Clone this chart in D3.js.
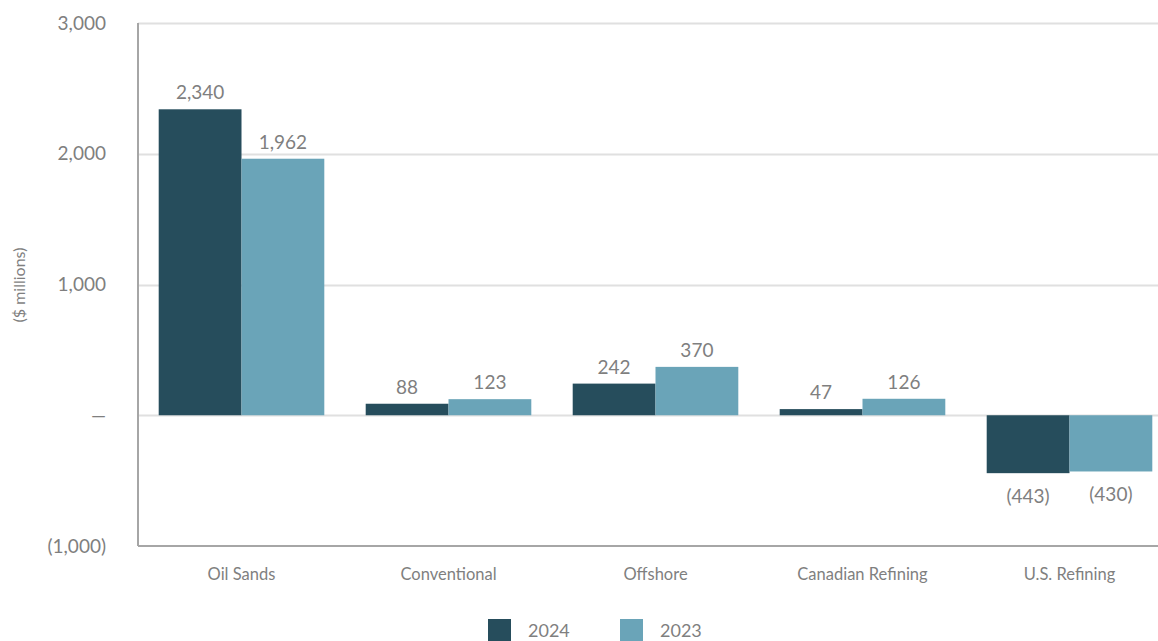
<!DOCTYPE html>
<html>
<head>
<meta charset="utf-8">
<script src="https://cdn.jsdelivr.net/npm/d3@7"></script>
<style>
  body { margin: 0; background: #fff; }
  text { font-family: Lato, "Open Sans", sans-serif; fill: #7f7f7f; }
</style>
</head>
<body>
<svg id="chart" width="1158" height="641"></svg>
<script>
const categories = ["Oil Sands", "Conventional", "Offshore", "Canadian Refining", "U.S. Refining"];
const seriesNames = ["2024", "2023"];
const values2024 = [2340, 88, 242, 47, -443];
const values2023 = [1962, 123, 370, 126, -430];
const yTicks = [-1000, 0, 1000, 2000, 3000];

const colours = { "2024": "#264d5c", "2023": "#6aa4b8" };

const svg = d3.select("#chart");
const xRange = [138, 1173];

const data = categories.map((c, i) => ({
  cat: c,
  vals: [
    { key: "2024", v: values2024[i] },
    { key: "2023", v: values2023[i] }
  ]
}));

const x0 = d3.scaleBand().domain(categories).range(xRange).paddingInner(0.2).paddingOuter(0.1);
const x1 = d3.scaleBand().domain(seriesNames).range([0, x0.bandwidth()]);
const y = d3.scaleLinear().domain([-1000, 3000]).range([546, 23]);

const fmt = (v) => v < 0 ? "(" + d3.format(",")(-v) + ")" : d3.format(",")(v);
const tickFmt = (v) => v === 0 ? "\u2014" : fmt(v);

// gridlines
svg.append("g")
  .selectAll("line")
  .data(yTicks.filter((d) => d > -1000))
  .enter()
  .append("line")
  .attr("x1", xRange[0])
  .attr("x2", 1158)
  .attr("y1", (d) => Math.round(y(d)) + 0.5)
  .attr("y2", (d) => Math.round(y(d)) + 0.5)
  .attr("stroke", "#e0e0e0")
  .attr("stroke-width", 2);

// y axis
const yAxis = d3.axisLeft(y).tickValues(yTicks).tickFormat(tickFmt).tickSize(0).tickPadding(32);
const yAxisG = svg.append("g").attr("transform", `translate(${xRange[0]},0)`).call(yAxis);
yAxisG.select(".domain").remove();
yAxisG.selectAll("text").style("font-size", "19px").attr("fill", "#7f7f7f");

// bars
const groups = svg.append("g")
  .selectAll("g")
  .data(data)
  .enter()
  .append("g")
  .attr("transform", (d) => `translate(${x0(d.cat)},0)`);

groups.selectAll("rect")
  .data((d) => d.vals)
  .enter()
  .append("rect")
  .attr("x", (d) => x1(d.key))
  .attr("width", x1.bandwidth())
  .attr("y", (d) => y(Math.max(0, d.v)))
  .attr("height", (d) => Math.abs(y(d.v) - y(0)))
  .attr("fill", (d) => colours[d.key]);

groups.selectAll("text")
  .data((d) => d.vals)
  .enter()
  .append("text")
  .attr("x", (d) => x1(d.key) + x1.bandwidth() / 2)
  .attr("y", (d) => d.v >= 0 ? y(d.v) - 10 : y(d.v) + 30)
  .attr("text-anchor", "middle")
  .style("font-size", "19px")
  .text((d) => fmt(d.v));

// axis lines
svg.append("line")
  .attr("x1", xRange[0]).attr("x2", xRange[0])
  .attr("y1", y(3000)).attr("y2", 546)
  .attr("stroke", "#a6a6a6").attr("stroke-width", 2);
svg.append("line")
  .attr("x1", xRange[0]).attr("x2", 1158)
  .attr("y1", 546).attr("y2", 546)
  .attr("stroke", "#a6a6a6").attr("stroke-width", 2);

// category labels
svg.append("g")
  .selectAll("text")
  .data(categories)
  .enter()
  .append("text")
  .attr("x", (d) => x0(d) + x0.bandwidth() / 2)
  .attr("y", 580)
  .attr("text-anchor", "middle")
  .style("font-size", "16.5px")
  .text((d) => d);

// y axis title
svg.append("text")
  .attr("transform", "rotate(-90)")
  .attr("x", -285)
  .attr("y", 25)
  .attr("text-anchor", "middle")
  .style("font-size", "16px")
  .text("($ millions)");

// legend
const legend = svg.append("g")
  .selectAll("g")
  .data(seriesNames)
  .enter()
  .append("g")
  .attr("transform", (d, i) => `translate(${488 + 132 * i},619)`);
legend.append("rect")
  .attr("width", 23)
  .attr("height", 22)
  .attr("fill", (d) => colours[d]);
legend.append("text")
  .attr("x", 40)
  .attr("y", 18)
  .style("font-size", "18px")
  .text((d) => d);
</script>
</body>
</html>
